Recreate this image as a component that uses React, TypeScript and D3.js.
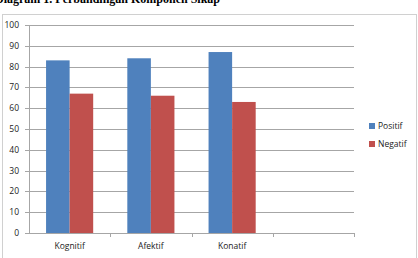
import React from "react";
import * as d3 from "d3";

const categories = ["Kognitif", "Afektif", "Konatif", ""];
const positif = [83, 84, 87];
const negatif = [67, 66, 63];
const seriesNames = ["Positif", "Negatif"];
const yTicks = [0, 10, 20, 30, 40, 50, 60, 70, 80, 90, 100];
const colors = ["#4F81BD", "#C0504D"];

export default function App() {
  const W = 418, H = 258;
  const left = 29, right = 354, top = 25, bottom = 233;
  const x = d3.scaleBand().domain(categories.map((c, i) => String(i))).range([left, right]).paddingInner(0).paddingOuter(0);
  const y = d3.scaleLinear().domain([0, 100]).range([bottom, top]);
  const bw = x.bandwidth();
  const groupPad = bw * 0.21;
  const inner = d3.scaleBand().domain(["0", "1"]).range([groupPad, bw - groupPad]);
  const font = "'Open Sans', 'Liberation Sans', sans-serif";
  const series = [positif, negatif];
  return (
    <svg width={W} height={H} style={{ position: "absolute", left: 0, top: 0 }} fontFamily={font}>
      <rect x={0} y={0} width={W} height={H} fill="#fff" />
      <text x={-5} y={3} fontFamily="'Liberation Serif', serif" fontWeight="bold" fontSize={12} fill="#000">
        Diagram 1. Perbandingan Komponen Sikap
      </text>
      <rect x={2.5} y={14.5} width={414} height={250} fill="none" stroke="#d0d0d0" strokeWidth={1} />
      {yTicks.map((t) => (
        <g key={t}>
          {t > 0 && <line x1={left} x2={right} y1={Math.round(y(t)) + 0.5} y2={Math.round(y(t)) + 0.5} stroke="#a6a6a6" strokeWidth={1} />}
          <line x1={left - 4} x2={left} y1={Math.round(y(t)) + 0.5} y2={Math.round(y(t)) + 0.5} stroke="#a6a6a6" />
          <text x={19} y={y(t)} dy="0.35em" textAnchor="end" fontSize={8.5} fill="#222">{t}</text>
        </g>
      ))}
      {series.map((vals, s) =>
        vals.map((v, i) => (
          <rect key={`${s}-${i}`} x={(x(String(i)) as number) + (inner(String(s)) as number)} y={y(v)} width={inner.bandwidth()} height={bottom - y(v)} fill={colors[s]} />
        ))
      )}
      <line x1={left + 0.5} x2={left + 0.5} y1={top} y2={bottom} stroke="#a6a6a6" />
      <line x1={left} x2={right} y1={bottom + 0.5} y2={bottom + 0.5} stroke="#a6a6a6" />
      {categories.map((c, i) => (
        <line key={i} x1={Math.round((x(String(i)) as number) + bw) + 0.5} x2={Math.round((x(String(i)) as number) + bw) + 0.5} y1={bottom} y2={bottom + 4} stroke="#a6a6a6" />
      ))}
      {categories.map((c, i) => (
        <text key={c + i} x={(x(String(i)) as number) + bw / 2} y={246} dy="0.35em" textAnchor="middle" fontSize={8.5} fill="#222">{c}</text>
      ))}
      {seriesNames.map((n, s) => (
        <g key={n}>
          <rect x={369} y={123 + s * 18} width={6} height={6} fill={colors[s]} />
          <text x={378} y={126 + s * 18} dy="0.35em" fontSize={8.5} fill="#222">{n}</text>
        </g>
      ))}
    </svg>
  );
}
